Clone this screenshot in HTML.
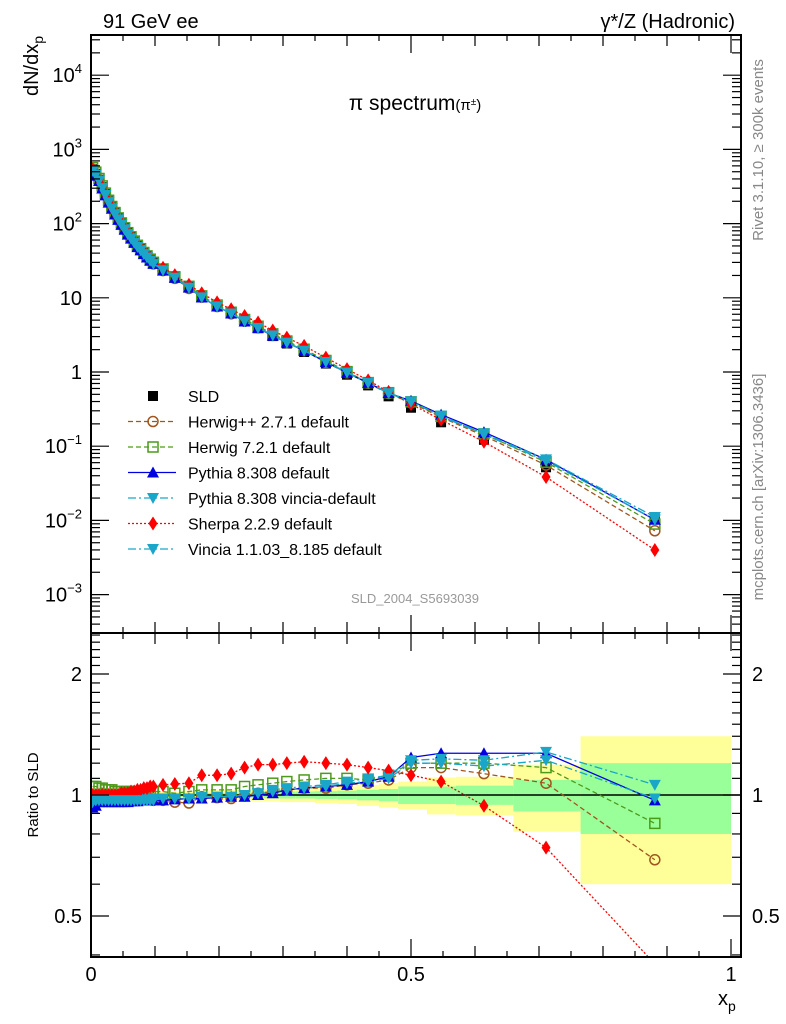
<!DOCTYPE html>
<html><head><meta charset="utf-8"><style>
body{margin:0;background:#fff;}
svg{display:block;font-family:"Liberation Sans",sans-serif;}
</style></head><body>
<svg id="c" width="786" height="1024" viewBox="0 0 786 1024">
<defs>
<clipPath id="cm"><rect x="91" y="35" width="650" height="598"/></clipPath>
<clipPath id="cr"><rect x="91" y="633" width="650" height="324"/></clipPath>
</defs>
<g id="bands" clip-path="url(#cr)"></g>
<g id="main" clip-path="url(#cm)"></g>
<g id="ratio" clip-path="url(#cr)"></g>
<g id="axes"></g>
<text x="103" y="28" font-size="20">91 GeV ee</text>
<text x="735" y="28" font-size="20" text-anchor="end">γ*/Z (Hadronic)</text>
<text x="415" y="110" font-size="21" text-anchor="middle">π spectrum<tspan font-size="15">(π<tspan baseline-shift="super" font-size="10">±</tspan>)</tspan></text>
<text x="415" y="603" font-size="13" fill="#999" text-anchor="middle">SLD_2004_S5693039</text>
<text transform="translate(763,150) rotate(-90)" font-size="15" fill="#888" text-anchor="middle">Rivet 3.1.10, ≥ 300k events</text>
<text transform="translate(763,487) rotate(-90)" font-size="15" fill="#888" text-anchor="middle">mcplots.cern.ch [arXiv:1306.3436]</text>
<text transform="translate(38,36) rotate(-90)" font-size="20" text-anchor="end">dN/dx<tspan font-size="14" dy="5">p</tspan></text>
<text transform="translate(38,795) rotate(-90)" font-size="15" text-anchor="middle">Ratio to SLD</text>
<text x="718" y="1005" font-size="20">x<tspan font-size="14" dy="6">p</tspan></text>
<g id="legend"></g>
</svg>
<script>
const xs=[0.0025,0.0075,0.0125,0.0175,0.0225,0.0275,0.0325,0.0375,0.0425,0.0475,0.0525,0.0575,0.0625,0.0675,0.0725,0.0775,0.0825,0.0875,0.0925,0.0975,
0.1125,0.131,0.153,0.173,0.197,0.219,0.24,0.261,0.284,0.306,0.333,0.367,0.4,0.433,0.465,0.5,0.547,0.614,0.711,0.881];
const edges=[0,0.005,0.01,0.015,0.02,0.025,0.03,0.035,0.04,0.045,0.05,0.055,0.06,0.065,0.07,0.075,0.08,0.085,0.09,0.095,0.1,
0.125,0.14,0.165,0.185,0.21,0.23,0.25,0.27,0.295,0.32,0.35,0.385,0.415,0.45,0.48,0.525,0.57,0.66,0.765,1.0];
const sld=[540,470,390,310,250,200,165,138,117,100,86,74,65,57,50,45,40,36,32.5,29.5,
24,19,14,10.3,7.75,6.2,4.85,3.9,3.05,2.42,1.86,1.3,0.92,0.66,0.47,0.33,0.21,0.122,0.052,0.0105];
const totErr=[0.04,0.03,0.025,0.02,0.02,0.02,0.02,0.02,0.02,0.02,0.02,0.02,0.02,0.02,0.02,0.02,0.02,0.02,0.02,0.02,
0.02,0.02,0.025,0.025,0.03,0.03,0.03,0.035,0.035,0.04,0.04,0.045,0.05,0.06,0.07,0.08,0.105,0.11,0.19,0.4];
const statErr=[0.02,0.015,0.01,0.01,0.01,0.01,0.01,0.01,0.01,0.01,0.01,0.01,0.01,0.01,0.01,0.01,0.01,0.01,0.01,0.01,
0.01,0.01,0.01,0.012,0.012,0.015,0.015,0.015,0.018,0.02,0.02,0.022,0.025,0.03,0.035,0.05,0.05,0.055,0.09,0.2];
const rHpp=[1.0,0.99,0.98,0.98,0.98,0.98,0.98,0.98,0.98,0.98,0.98,0.98,0.98,0.98,0.98,0.98,0.98,0.98,0.98,0.97,
0.97,0.96,0.955,0.99,0.985,0.98,0.995,1.01,1.02,1.03,1.04,1.04,1.06,1.07,1.09,1.17,1.17,1.13,1.07,0.69];
const rH7=[1.05,1.05,1.04,1.04,1.03,1.03,1.03,1.02,1.02,1.02,1.02,1.02,1.02,1.02,1.02,1.02,1.02,1.02,1.02,1.02,
1.02,1.01,1.02,1.03,1.03,1.03,1.05,1.06,1.07,1.08,1.09,1.1,1.1,1.09,1.12,1.2,1.2,1.2,1.17,0.85];
const rPy=[0.93,0.94,0.96,0.96,0.96,0.96,0.96,0.96,0.96,0.96,0.96,0.96,0.965,0.965,0.965,0.97,0.97,0.97,0.97,0.97,
0.97,0.975,0.98,0.98,0.985,0.99,0.99,1.0,1.01,1.03,1.04,1.05,1.06,1.08,1.11,1.24,1.27,1.27,1.27,0.97];
const rPyV=[0.96,0.97,0.98,0.98,0.98,0.98,0.98,0.98,0.98,0.98,0.98,0.98,0.98,0.98,0.98,0.98,0.98,0.98,0.98,0.98,
0.98,0.98,0.98,0.99,0.99,0.99,1.0,1.01,1.03,1.04,1.05,1.06,1.08,1.1,1.12,1.22,1.23,1.22,1.28,1.06];
const rSh=[1.0,1.0,1.0,1.0,1.0,1.0,1.0,1.0,1.0,1.01,1.01,1.01,1.02,1.02,1.03,1.03,1.04,1.04,1.05,1.05,
1.06,1.065,1.07,1.12,1.12,1.13,1.17,1.19,1.19,1.2,1.21,1.2,1.19,1.17,1.15,1.12,1.08,0.94,0.74,0.38];
const rVi=[0.96,0.97,0.97,0.97,0.97,0.97,0.97,0.97,0.97,0.97,0.97,0.97,0.97,0.97,0.97,0.97,0.97,0.97,0.97,0.97,
0.98,0.98,0.98,0.985,0.99,0.99,1.0,1.01,1.02,1.03,1.04,1.05,1.07,1.08,1.1,1.2,1.2,1.18,1.22,0.98];
const yTickBase=["10","10","10","1","10","10","10","10"];
const yTickExp=["−3","−2","−1","","","2","3","4"];
const rTickLabels=["0.5","1","2"];
const xTickLabels=["0","0.5","1"];

const NS="http://www.w3.org/2000/svg";
const X=v=>91+640*v;
const Y=v=>372-74.2*Math.log10(v);
const R=v=>795-121*Math.log2(v);
function mk(tag,attrs,parent){const e=document.createElementNS(NS,tag);for(const k in attrs)e.setAttribute(k,attrs[k]);parent.appendChild(e);return e;}
const gB=document.getElementById('bands'),gM=document.getElementById('main'),gR=document.getElementById('ratio'),gA=document.getElementById('axes'),gL=document.getElementById('legend');

xs.forEach((x,i)=>{
  const a=X(edges[i]),b=X(edges[i+1]);
  const y1=mk('rect',{x:a,y:R(1+totErr[i]),width:b-a,height:R(1-totErr[i])-R(1+totErr[i]),fill:'#ffff99'},gB);
  
  
  const y2=mk('rect',{x:a,y:R(1+statErr[i]),width:b-a,height:R(1-statErr[i])-R(1+statErr[i]),fill:'#99ff99'},gB);
  
  
});
const ul=mk('line',{x1:91,x2:741,y1:R(1),y2:R(1),stroke:'#000','stroke-width':1.5},gB);



function marker(type,cx,cy,color,parent){
  let e;
  if(type==='circle')e=mk('circle',{cx,cy,r:5,fill:'none',stroke:color,'stroke-width':1.5},parent);
  else if(type==='osquare')e=mk('rect',{x:cx-5,y:cy-5,width:10,height:10,fill:'none',stroke:color,'stroke-width':1.5},parent);
  else if(type==='square')e=mk('rect',{x:cx-5,y:cy-5,width:10,height:10,fill:color},parent);
  else if(type==='up')e=mk('polygon',{points:`${cx},${cy-6} ${cx-6},${cy+5} ${cx+6},${cy+5}`,fill:color},parent);
  else if(type==='down')e=mk('polygon',{points:`${cx},${cy+6} ${cx-6},${cy-5} ${cx+6},${cy-5}`,fill:color},parent);
  else if(type==='diamond')e=mk('polygon',{points:`${cx},${cy-7} ${cx-4.5},${cy} ${cx},${cy+7} ${cx+4.5},${cy}`,fill:color},parent);
  return e;
}
const series=[
 {name:'herwigpp',ratio:rHpp,color:'#a0561e',dash:'5,3',m:'circle',label:'Herwig++ 2.7.1 default'},
 {name:'herwig7',ratio:rH7,color:'#4c9a1a',dash:'5,3',m:'osquare',label:'Herwig 7.2.1 default'},
 {name:'pythia',ratio:rPy,color:'#0000e0',dash:'',m:'up',label:'Pythia 8.308 default'},
 {name:'pythia-vincia',ratio:rPyV,color:'#1aa6c8',dash:'8,3,2,3',m:'down',label:'Pythia 8.308 vincia-default'},
 {name:'sherpa',ratio:rSh,color:'#ff0000',dash:'2,2',m:'diamond',label:'Sherpa 2.2.9 default'},
 {name:'vincia',ratio:rVi,color:'#1aa6c8',dash:'8,3,2,3',m:'down',label:'Vincia 1.1.03_8.185 default'}
];
xs.forEach((x,i)=>{
  const e=marker('square',X(x),Y(sld[i]),'#000',gM);
  
  
});
series.forEach(s=>{
  const mp=xs.map((x,i)=>X(x)+','+Y(sld[i]*s.ratio[i])).join(' ');
  const rp=xs.map((x,i)=>X(x)+','+R(s.ratio[i])).join(' ');
  const l1=mk('polyline',{points:mp,fill:'none',stroke:s.color,'stroke-width':1.3,'stroke-dasharray':s.dash},gM);
  
  
  const l2=mk('polyline',{points:rp,fill:'none',stroke:s.color,'stroke-width':1.3,'stroke-dasharray':s.dash},gR);
  
  
  xs.forEach((x,i)=>{
    const a=marker(s.m,X(x),Y(sld[i]*s.ratio[i]),s.color,gM);
    
    
    const b=marker(s.m,X(x),R(s.ratio[i]),s.color,gR);
    
    
  });
});

[[35,633],[633,957]].forEach(([t,b])=>{
  const f=mk('rect',{x:91,y:t,width:650,height:b-t,fill:'none',stroke:'#000','stroke-width':2},gA);
  
  
});
function tick(x1,y1,x2,y2){mk('line',{x1,y1,x2,y2,stroke:'#000','stroke-width':1.2},gA);}
for(let k=0;k<=20;k++){
  const v=k*0.05, px=X(v);
  const len=(k%10===0)?18:(k%2===0?11:6);
  tick(px,35,px,35+len);tick(px,633,px,633-len);tick(px,633,px,633+len);tick(px,957,px,957-len);
}
xTickLabels.forEach((t,i)=>{
  const e=mk('text',{x:X(i*0.5),y:981,'font-size':20,'text-anchor':'middle'},gA);e.textContent=t;
  
  
});
for(let d=-4;d<=4;d++){
  for(let m=1;m<=9;m++){
    const v=m*Math.pow(10,d),py=Y(v);
    if(py<35||py>633)continue;
    const len=m===1?18:9;
    tick(91,py,91+len,py);tick(741,py,741-len,py);
  }
}
yTickBase.forEach((t,i)=>{
  const e=mk('text',{x:82,y:Y(Math.pow(10,i-3))+7,'font-size':20,'text-anchor':'end'},gA);
  
  
  e.appendChild(document.createTextNode(t));
  if(yTickExp[i]){const sp=mk('tspan',{'font-size':13,dy:-9},e);sp.textContent=yTickExp[i];}
});
for(let k=4;k<=25;k++){
  const v=k/10,py=R(v);
  if(py<633||py>957)continue;
  const len=(k===5||k===10||k===20)?18:9;
  tick(91,py,91+len,py);tick(741,py,741-len,py);
}
rTickLabels.forEach((t,i)=>{
  const e=mk('text',{x:82,y:R(0.5*Math.pow(2,i))+7,'font-size':20,'text-anchor':'end'},gA);e.textContent=t;
  
  
  const e2=mk('text',{x:752,y:R(0.5*Math.pow(2,i))+7,'font-size':20},gA);e2.textContent=t;
  
  
});
const rows=[{label:'SLD',m:'square',color:'#000',dash:null,name:'sld'}].concat(series);
rows.forEach((s,i)=>{
  const y=396+i*25.5;
  const g=mk('g',{},gL);
  
  
  if(s.dash!==null)mk('line',{x1:128,x2:176,y1:y,y2:y,stroke:s.color,'stroke-width':1.3,'stroke-dasharray':s.dash},g);
  marker(s.m,153,y,s.color,g);
  const t=mk('text',{x:188,y:y+6,'font-size':16},g);t.textContent=s.label;
});
</script>
</body></html>
